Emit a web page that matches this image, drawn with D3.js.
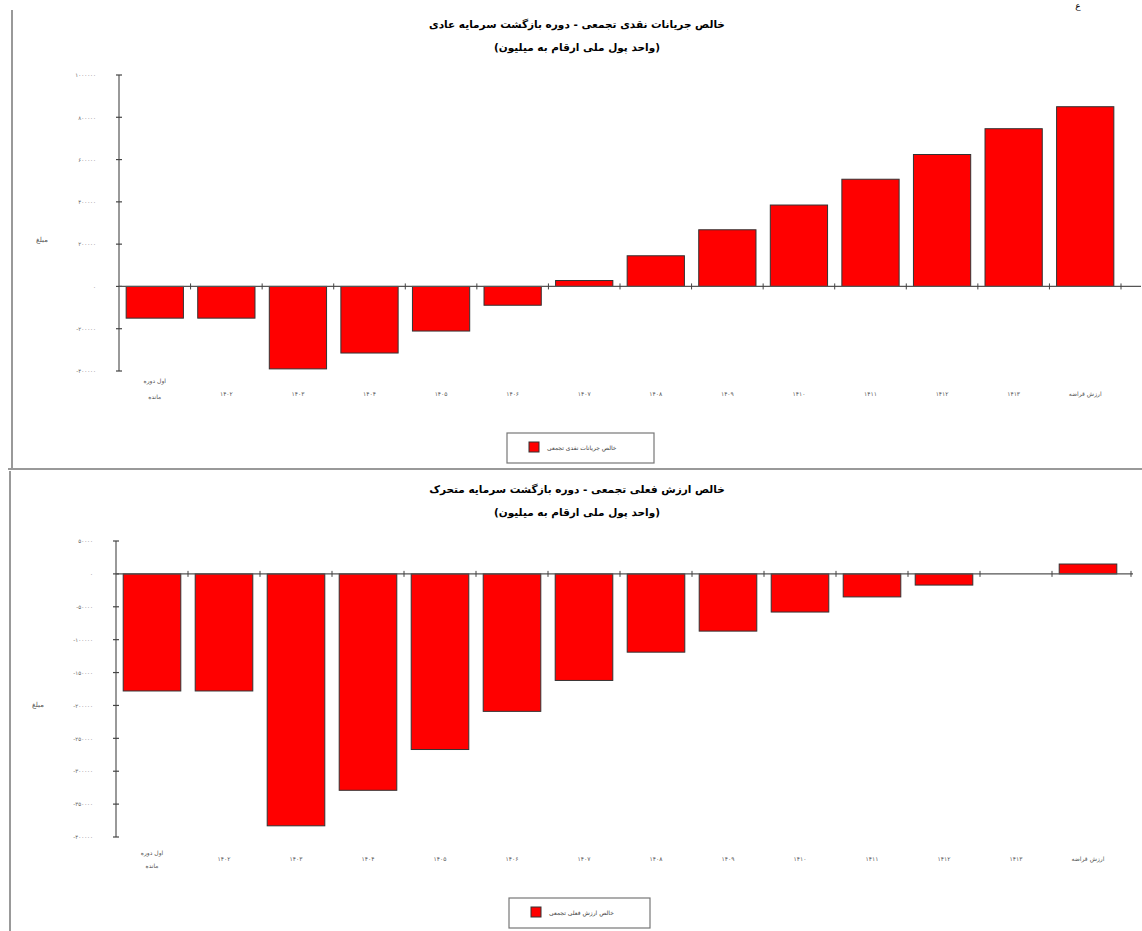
<!DOCTYPE html>
<html>
<head>
<meta charset="utf-8">
<script src="https://cdn.jsdelivr.net/npm/d3@7"></script>
<style>
	body { margin: 0; background: #fff; }
	text { font-family: "DejaVu Sans", sans-serif; }
</style>
</head>
<body>
<script>
let categories = ['اول دوره|مانده', '۱۴۰۲', '۱۴۰۳', '۱۴۰۴', '۱۴۰۵', '۱۴۰۶', '۱۴۰۷',
	'۱۴۰۸', '۱۴۰۹', '۱۴۱۰', '۱۴۱۱', '۱۴۱۲', '۱۴۱۳', 'ارزش قراضه'];

let cashFlow = [-150000, -150000, -390000, -315000, -211000, -89000, 28000,
	145000, 268000, 385000, 507000, 624000, 746000, 850000];
let cashTicks = [1000000, 800000, 600000, 400000, 200000, 0, -200000, -400000];

let presentValue = [-178000, -178000, -383000, -329000, -267000, -209000, -162000,
	-119000, -87000, -58000, -35000, -17000, 0, 15000];
let pvTicks = [50000, 0, -50000, -100000, -150000, -200000, -250000, -300000, -350000, -400000];

let titles = ['خالص جریانات نقدی تجمعی - دوره بازگشت سرمایه عادی',
	'خالص ارزش فعلی تجمعی - دوره بازگشت سرمایه متحرک'];
let subtitle = '(واحد پول ملی  ارقام به میلیون)';
let legendNames = ['خالص جریانات نقدی تجمعی', 'خالص ارزش فعلی تجمعی'];
let axisName = 'مبلغ';

const faDigits = '۰۱۲۳۴۵۶۷۸۹';
let toFa = v => String(v).replace(/\d/g, d => faDigits[d]);

let svg = d3.select('body').append('svg')
	.attr('width', 1142)
	.attr('height', 931);

// frame lines of the screenshot
svg.append('line').attr('x1', 12).attr('x2', 12).attr('y1', 10).attr('y2', 468)
	.style('stroke', '#777').style('stroke-width', 1.5);
svg.append('line').attr('x1', 8).attr('x2', 1142).attr('y1', 469).attr('y2', 469)
	.style('stroke', '#777').style('stroke-width', 1.5);
svg.append('line').attr('x1', 10).attr('x2', 10).attr('y1', 471).attr('y2', 931)
	.style('stroke', '#777').style('stroke-width', 1.5);
svg.append('text').attr('x', 1078).attr('y', 9).attr('text-anchor', 'middle')
	.style('font-size', '9px').text('ع');

function drawChart(cfg) {
	let g = svg.append('g');

	let x = d3.scaleBand()
		.domain(categories)
		.range([cfg.x0, cfg.xBands])
		.paddingInner(0.2)
		.paddingOuter(0.1);
	let y = d3.scaleLinear()
		.domain(cfg.domain)
		.range([cfg.yBottom, cfg.yTop]);

	// titles
	g.append('text')
		.attr('x', 577).attr('y', cfg.titleY)
		.attr('text-anchor', 'middle')
		.style('font-size', '10.5px').style('font-weight', 'bold')
		.text(cfg.title);
	g.append('text')
		.attr('x', 577).attr('y', cfg.titleY + 23)
		.attr('text-anchor', 'middle')
		.style('font-size', '10.5px').style('font-weight', 'bold')
		.text(subtitle);

	// bars
	g.selectAll('rect.bar')
		.data(cfg.values)
		.enter().append('rect')
		.attr('class', 'bar')
		.attr('x', (d, i) => x(categories[i]))
		.attr('width', x.bandwidth())
		.attr('y', d => y(Math.max(0, d)))
		.attr('height', d => Math.abs(y(d) - y(0)))
		.style('fill', '#ff0000')
		.style('stroke', '#333')
		.style('stroke-width', 1)
		.style('display', d => d === 0 ? 'none' : null);

	// y axis
	let yAxis = g.append('g')
		.attr('transform', `translate(${cfg.x0},0)`)
		.call(d3.axisLeft(y).tickValues(cfg.ticks).tickSize(0).tickPadding(0).tickFormat(toFa));
	yAxis.select('.domain').remove();
	yAxis.selectAll('text')
		.attr('x', -23)
		.style('direction', 'ltr')
		.style('font-family', '"DejaVu Sans", sans-serif')
		.style('font-size', '5.5px')
		.style('fill', '#666');
	g.append('line')
		.attr('x1', cfg.x0).attr('x2', cfg.x0)
		.attr('y1', y(cfg.domain[1])).attr('y2', y(cfg.domain[0]))
		.style('stroke', '#555').style('stroke-width', 1.2);
	g.selectAll('line.ytick')
		.data(cfg.ticks)
		.enter().append('line')
		.attr('x1', cfg.x0 - 3).attr('x2', cfg.x0 + 3)
		.attr('y1', d => y(d)).attr('y2', d => y(d))
		.style('stroke', '#444').style('stroke-width', 1.2);

	g.append('text')
		.attr('x', cfg.labelX).attr('y', cfg.labelY)
		.attr('text-anchor', 'middle')
		.style('font-size', '7px').style('fill', '#555')
		.text(axisName);

	// x axis on zero
	g.append('line')
		.attr('x1', cfg.x0).attr('x2', cfg.x1)
		.attr('y1', y(0)).attr('y2', y(0))
		.style('stroke', '#555').style('stroke-width', 1.2);
	let bounds = categories.map(c => x(c) - x.step() * 0.1);
	bounds.shift();
	bounds.push(cfg.endTick);
	g.selectAll('line.xtick')
		.data(bounds)
		.enter().append('line')
		.attr('x1', d => d).attr('x2', d => d)
		.attr('y1', y(0) - 3).attr('y2', y(0) + 3)
		.style('stroke', '#444').style('stroke-width', 1);

	// category labels
	categories.forEach((c, i) => {
		let cx = x(c) + x.bandwidth() / 2;
		let parts = c.split('|');
		parts.forEach((p, k) => {
			g.append('text')
				.attr('x', cx)
				.attr('y', parts.length > 1 ? cfg.catY - cfg.catUp + k * cfg.catGap : cfg.catY)
				.attr('text-anchor', 'middle')
				.style('font-size', '6px').style('fill', '#555')
				.text(p);
		});
	});

	// legend
	let lg = g.append('g').attr('transform', `translate(${cfg.legendX},${cfg.legendY})`);
	lg.append('rect')
		.attr('width', cfg.legendW).attr('height', 30)
		.style('fill', '#fff').style('stroke', '#777').style('stroke-width', 1.2);
	lg.append('rect')
		.attr('x', 22).attr('y', 9).attr('width', 10).attr('height', 10)
		.style('fill', '#ff0000').style('stroke', '#333');
	lg.append('text')
		.attr('x', 40).attr('y', 17)
		.style('font-size', '6px').style('fill', '#444')
		.text(cfg.legend);
}

drawChart({
	title: titles[0], titleY: 28,
	values: cashFlow, ticks: cashTicks,
	domain: [-400000, 1000000],
	x0: 119, xBands: 1121, x1: 1141, endTick: 1121, yBottom: 371, yTop: 75,
	labelX: 42, labelY: 242, catY: 396, catUp: 13, catGap: 16,
	legendX: 507, legendY: 433, legendW: 147,
	legend: legendNames[0]
});

drawChart({
	title: titles[1], titleY: 493,
	values: presentValue, ticks: pvTicks,
	domain: [-400000, 50000],
	x0: 116, xBands: 1124, x1: 1133, endTick: 1131, yBottom: 837, yTop: 541,
	labelX: 38, labelY: 707, catY: 861, catUp: 6, catGap: 13,
	legendX: 509, legendY: 898, legendW: 141,
	legend: legendNames[1]
});
</script>
</body>
</html>
